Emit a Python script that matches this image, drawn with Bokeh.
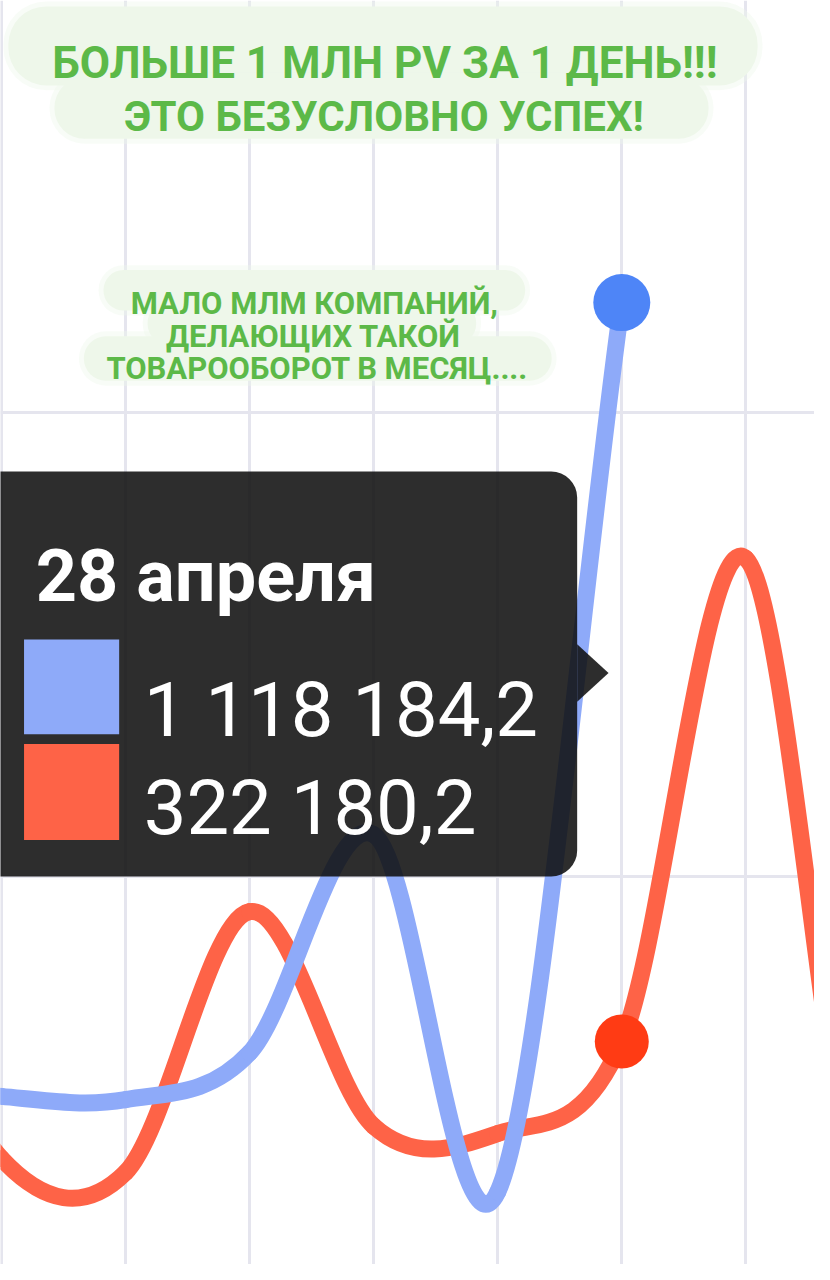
from bokeh.plotting import figure
from bokeh.models import Range1d, FixedTicker, BoxAnnotation, PolyAnnotation, Label, ColumnDataSource
from bokeh.embed import file_html
from bokeh.resources import INLINE

# ---------------- data ----------------
month = "апреля"
red_days = [22, 23, 24, 25, 26, 27, 28, 29, 30, 31]
red_vals = [468000, 196000, 181000, 462000, 231000, 223000, 322180.2, 842500, 82000, 220000]
blue_days = [22, 23, 24, 25, 26, 27, 28]
blue_vals = [284000, 263000, 259500, 310000, 545000, 160000, 1118184.2]
y_grid_values = [500000, 1000000]
x_grid_days = [23, 24, 25, 26, 27, 28, 29]
selected_day = 28

title_top = ["БОЛЬШЕ 1 МЛН PV ЗА 1 ДЕНЬ!!!", "ЭТО БЕЗУСЛОВНО УСПЕХ!"]
title_mid = ["МАЛО МЛМ КОМПАНИЙ,", "ДЕЛАЮЩИХ ТАКОЙ", "ТОВАРООБОРОТ В МЕСЯЦ...."]

# ---------------- layout ----------------
W, H = 814, 1264
RW, RH = 830, 1280          # design grid (positions below are on this grid)
X0, X1 = 22.9921, 29.5534
Y0, Y1 = 81915, 1443617

def fx(X):
    return X0 + X / RW * (X1 - X0)

def fy(Y):
    return Y1 - Y / RH * (Y1 - Y0)

p = figure(width=W, height=H, x_range=Range1d(X0, X1), y_range=Range1d(Y0, Y1),
           output_backend="svg", toolbar_location=None, min_border=0,
           x_axis_location=None, y_axis_location=None)
p.outline_line_color = None
p.background_fill_color = "white"
p.border_fill_color = "white"
p.xgrid.ticker = FixedTicker(ticks=x_grid_days)
p.ygrid.ticker = FixedTicker(ticks=y_grid_values)
for g in (p.xgrid, p.ygrid):
    g.grid_line_color = "#e5e5ee"
    g.grid_line_width = 3


def spline_source(xs, ys):
    # Catmull-Rom control points, with phantom end points
    xx = [2 * xs[0] - xs[1]] + list(xs) + [2 * xs[-1] - xs[-2]]
    yy = [2 * ys[0] - ys[1]] + list(ys) + [2 * ys[-1] - ys[-2]]
    d = dict(x0=[], y0=[], x1=[], y1=[], cx0=[], cy0=[], cx1=[], cy1=[])
    for i in range(1, len(xx) - 2):
        d["x0"].append(xx[i]); d["y0"].append(yy[i])
        d["x1"].append(xx[i + 1]); d["y1"].append(yy[i + 1])
        d["cx0"].append(xx[i] + (xx[i + 1] - xx[i - 1]) / 6)
        d["cy0"].append(yy[i] + (yy[i + 1] - yy[i - 1]) / 6)
        d["cx1"].append(xx[i + 1] - (xx[i + 2] - xx[i]) / 6)
        d["cy1"].append(yy[i + 1] - (yy[i + 2] - yy[i]) / 6)
    return ColumnDataSource(d)

RED_LINE, BLUE_LINE = "#fe6347", "#8eaaf9"
RED_DOT, BLUE_DOT = "#ff3b14", "#4e85f7"

p.bezier(x0="x0", y0="y0", x1="x1", y1="y1", cx0="cx0", cy0="cy0", cx1="cx1", cy1="cy1",
         source=spline_source(red_days, red_vals), line_color=RED_LINE, line_width=17,
         line_cap="round")
p.bezier(x0="x0", y0="y0", x1="x1", y1="y1", cx0="cx0", cy0="cy0", cx1="cx1", cy1="cy1",
         source=spline_source(blue_days, blue_vals), line_color=BLUE_LINE, line_width=17,
         line_cap="round")

ri = red_days.index(selected_day)
bi = blue_days.index(selected_day)
p.scatter([red_days[ri]], [red_vals[ri]], size=54, color=RED_DOT, line_color=None)
p.scatter([blue_days[bi]], [blue_vals[bi]], size=57, color=BLUE_DOT, line_color=None)

# ---------------- green callouts ----------------
GREEN_BG = "#eef7ea"
GREEN_TXT = "#5cb948"

def bg(l, r, t, b, rad, alpha=1.0):
    p.add_layout(BoxAnnotation(left=fx(l), right=fx(r), top=fy(t), bottom=fy(b),
                               fill_color=GREEN_BG, fill_alpha=alpha, line_color=None,
                               border_radius=rad))

for (l, r, t, b, rad) in [(8, 772, 6, 86, 38), (55, 722, 78, 140, 30),
                          (105, 535, 273, 314, 20), (150, 485, 306, 348, 20),
                          (85, 562, 340, 385, 22)]:
    bg(l - 5, r + 5, t - 5, b + 5, rad + 5, 0.4)
    bg(l, r, t, b, rad)

def lab(text, X, Y, size, bold=True, color=GREEN_TXT, align="center"):
    p.add_layout(Label(x=fx(X), y=fy(Y), text=text, text_font="Roboto",
                       text_font_size=f"{size}px", text_font_style="bold" if bold else "normal",
                       text_color=color, text_align=align, text_baseline="alphabetic"))

lab(title_top[0], 392, 63, 44)
lab(title_top[1], 391, 117, 42)
lab(title_mid[0], 320, 307, 31)
lab(title_mid[1], 319, 340, 31)
lab(title_mid[2], 323, 373, 31)

# ---------------- tooltip ----------------
TIP = "#101010"
p.add_layout(BoxAnnotation(left=fx(-40), right=fx(588), top=fy(477), bottom=fy(887),
                           fill_color=TIP, fill_alpha=0.88, line_color=None, border_radius=26))
p.add_layout(PolyAnnotation(xs=[fx(588), fx(620), fx(588)], ys=[fy(652), fy(681), fy(710)],
                            fill_color=TIP, fill_alpha=0.88, line_color=None))
p.add_layout(BoxAnnotation(left=fx(24), right=fx(121), top=fy(647), bottom=fy(743),
                           fill_color=BLUE_LINE, fill_alpha=1, line_color=None))
p.add_layout(BoxAnnotation(left=fx(24), right=fx(121), top=fy(753), bottom=fy(850),
                           fill_color=RED_LINE, fill_alpha=1, line_color=None))

def fmt_ru(v):
    return f"{v:,.1f}".replace(",", " ").replace(".", ",")

lab(f"{selected_day} {month}", 36, 583, 72, bold=True, color="white", align="left")
lab(fmt_ru(blue_vals[bi]), 146, 718, 76, bold=False, color="white", align="left")
lab(fmt_ru(red_vals[ri]), 146, 818, 76, bold=False, color="white", align="left")

open("out.html", "w").write(file_html(p, INLINE))
